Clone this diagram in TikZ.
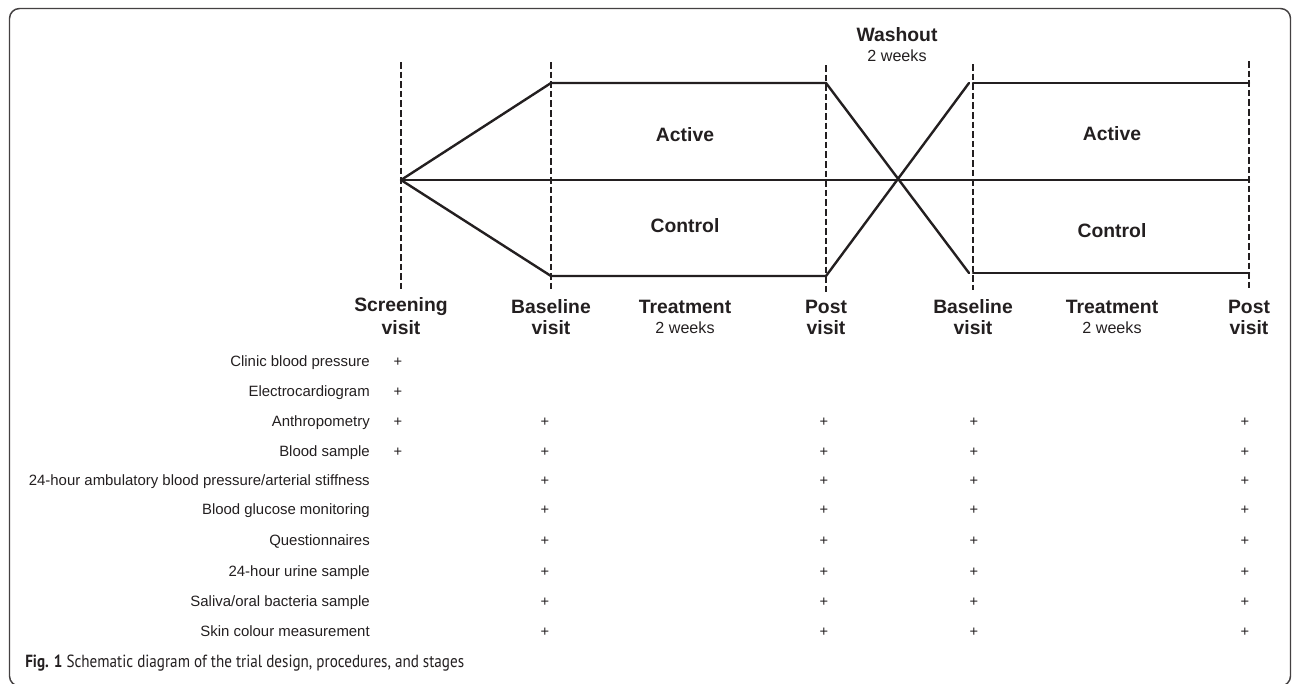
\documentclass[tikz,border=0pt]{standalone}
\usepackage{fontspec}
\setmainfont{Liberation Sans}
\newfontfamily\capfont[FakeStretch=0.86]{PT Sans}
\definecolor{ink}{HTML}{231F20}
\begin{document}
\begin{tikzpicture}[x=0.75pt,y=-0.75pt,
  solidline/.style={ink,line width=1.8pt,line cap=round,line join=round},
  dashline/.style={ink,line width=1.4pt,dash pattern=on 5pt off 2.2pt},
  framebox/.style={ink!85,line width=1.1pt,rounded corners=7.5pt},
  bigbold/.style={ink,font=\fontsize{14.5}{16}\selectfont\bfseries,inner sep=0pt},
  weeks/.style={ink,font=\fontsize{12.1}{14}\selectfont,inner sep=0pt},
  rowlabel/.style={ink,font=\fontsize{11.2}{13}\selectfont,inner sep=0pt,anchor=base east},
  plusmark/.style={ink,font=\fontsize{11}{13}\selectfont,inner sep=0pt,anchor=base}]
\useasboundingbox (0,0) rectangle (1292,683);
\begin{scope}
\clip (0,0) rectangle (1292,683);
\draw[framebox] (9.5,8.5) rectangle (1290.5,686);
\end{scope}

% dashed visit lines
\coordinate (v1t) at (401,62);  \coordinate (v1b) at (401,290);
\coordinate (v2t) at (551,62);  \coordinate (v2b) at (551,290);
\coordinate (v3t) at (826,65);  \coordinate (v3b) at (826,293);
\coordinate (v4t) at (973,64);  \coordinate (v4b) at (973,290);
\coordinate (v5t) at (1249,61); \coordinate (v5b) at (1249,288);
\foreach \i in {1,...,5} \draw[dashline] (v\i t) -- (v\i b);

% arm structure
\coordinate (S) at (401,180);
\coordinate (B1t) at (551,83);  \coordinate (B1b) at (551,276);
\coordinate (P1t) at (826,83);  \coordinate (P1b) at (826,276);
\coordinate (X2t) at (969,83);  \coordinate (X2b) at (969,273);
\coordinate (B2t) at (973,83);  \coordinate (B2b) at (973,273);
\coordinate (P2t) at (1249,83); \coordinate (P2b) at (1249,273);
\coordinate (E) at (1249,180);
\draw[solidline] (S) -- (B1t) -- (P1t) -- (X2b);
\draw[solidline] (S) -- (B1b) -- (P1b) -- (X2t);
\draw[solidline] (S) -- (E);
\draw[solidline] (B2t) -- (P2t);
\draw[solidline] (B2b) -- (P2b);

% arm labels
\node[bigbold] (act1) at (685,135) {Active};
\node[bigbold] (con1) at (685,226) {Control};
\node[bigbold] (act2) at (1112,134) {Active};
\node[bigbold] (con2) at (1112,231) {Control};
\node[bigbold] (wash) at (897,35) {Washout};
\node[weeks] (washw) at (897,56) {2 weeks};

% stage labels
\node[bigbold] (scr1) at (401,307) {Screening};
\node[bigbold] (scr2) at (401,328) {visit};
\node[bigbold] (bas1) at (551,307) {Baseline};
\node[bigbold] (bas2) at (551,328) {visit};
\node[bigbold] (trt1) at (685,307) {Treatment};
\node[weeks]   (trt2) at (685,328) {2 weeks};
\node[bigbold] (pst1) at (826,307) {Post};
\node[bigbold] (pst2) at (826,328) {visit};
\node[bigbold] (bsb1) at (973,307) {Baseline};
\node[bigbold] (bsb2) at (973,328) {visit};
\node[bigbold] (trb1) at (1112,307) {Treatment};
\node[weeks]   (trb2) at (1112,328) {2 weeks};
\node[bigbold] (psb1) at (1249,307) {Post};
\node[bigbold] (psb2) at (1249,328) {visit};

% procedure rows
\foreach \lab/\yy/\cols [count=\r] in {
  Clinic blood pressure/361/{398},
  Electrocardiogram/391/{398},
  Anthropometry/421/{398,545,824,974,1245},
  Blood sample/451/{398,545,824,974,1245},
  24-hour ambulatory blood pressure\slash arterial stiffness/480/{545,824,974,1245},
  Blood glucose monitoring/509/{545,824,974,1245},
  Questionnaires/540/{545,824,974,1245},
  24-hour urine sample/571/{545,824,974,1245},
  Saliva\slash oral bacteria sample/601/{545,824,974,1245},
  Skin colour measurement/631/{545,824,974,1245}} {
  \node[rowlabel] (row\r) at (370,\yy+5) {\lab};
  \foreach \xx [count=\c] in \cols
    \node[plusmark] (plus\r-\c) at (\xx,\yy+5) {+};
}

% caption
\node[anchor=base west,inner sep=0pt,ink,font=\capfont\fontsize{13.2}{15}\selectfont] (cap) at (25,667)
  {\textbf{Fig. 1} Schematic diagram of the trial design, procedures, and stages};
\end{tikzpicture}
\end{document}
